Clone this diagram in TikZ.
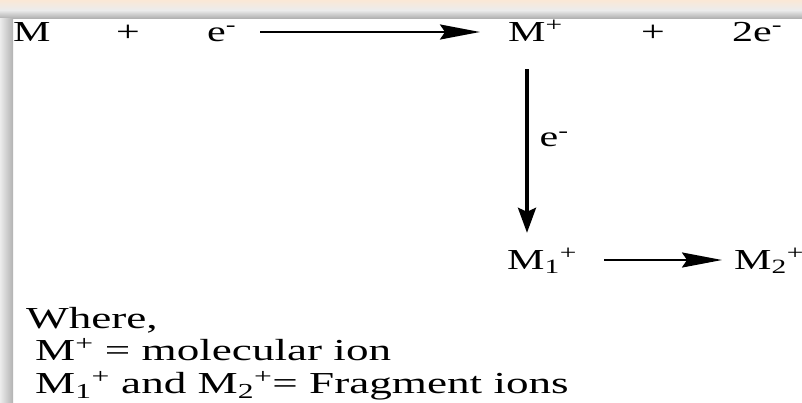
\documentclass[tikz,border=0pt]{standalone}
\usepackage{fontspec}
\usetikzlibrary{arrows.meta,positioning}
\setmainfont{Liberation Serif}
\newfontfamily\chemfont[FakeStretch=1.45]{Liberation Serif}
\newfontfamily\notefont[FakeStretch=1.48]{Liberation Serif}
\definecolor{FrameGrey}{RGB}{178,178,178}
\definecolor{FrameLight}{RGB}{236,236,236}
\definecolor{MarkPeach}{RGB}{250,232,214}

\begin{document}
\begin{tikzpicture}[x=1pt, y=-1pt,
        chem/.style={inner sep=0pt, anchor=base west, text height=18pt, text depth=0pt,
                                font=\chemfont\fontsize{29}{29}\selectfont},
        note/.style={inner sep=0pt, anchor=base west,
                                font=\notefont\fontsize{30.5}{30.5}\selectfont},
        arr/.style={-{Stealth[length=40pt, width=15pt, inset=5pt]}, line width=2.4pt},
        varr/.style={-{Stealth[length=25pt, width=18pt, inset=4pt]}, line width=3.2pt}
]
    % page and frame shadow
    \useasboundingbox (0,0) rectangle (802,402);
    \fill[white] (0,0) rectangle (802,402);
    \fill[top color=MarkPeach, bottom color=FrameLight] (0,0) rectangle (802,10);
    \fill[top color=FrameLight, bottom color=FrameGrey] (0,10) rectangle (802,18);
    \fill[left color=FrameLight, right color=FrameGrey] (0,18) rectangle (13,402);
    % top reaction
    \node[chem] (m)    at (13,41)  {M};
    \node[chem] (plus1) at (116,41) {+};
    \node[chem] (e1)   at (207,41) {e\textsuperscript{-}};
    \node[chem] (mp)   at (508,41) {M\textsuperscript{+}};
    \node[chem] (plus2) at (641,41) {+};
    \node[chem] (e2)   at (732,41) {2e\textsuperscript{-}};
    % fragments
    \node[chem] (m1)   at (507,269) {M\textsubscript{1}\textsuperscript{+}};
    \node[chem] (m2)   at (734,269) {M\textsubscript{2}\textsuperscript{+}};
    \draw[arr, shorten <=24pt, shorten >=28pt] (e1.east) -- (mp.west);
    \draw[varr, shorten <=28pt, shorten >=18pt] ([xshift=19pt]mp.south west) -- ([xshift=20pt]m1.north west)
        node[chem, anchor=west, pos=0.46, xshift=11pt] (e3) {e\textsuperscript{-}};
    \draw[arr, shorten <=27pt, shorten >=12pt] (m1.east) -- (m2.west);
    % legend
    \node[note] (where) at (26,328) {Where,};
    \node[note] (mol)   at (35,360) {M\textsuperscript{+} = molecular ion};
    \node[note] (frag)  at (35,393) {M\textsubscript{1}\textsuperscript{+} and M\textsubscript{2}\textsuperscript{+}= Fragment ions};
\end{tikzpicture}
\end{document}
